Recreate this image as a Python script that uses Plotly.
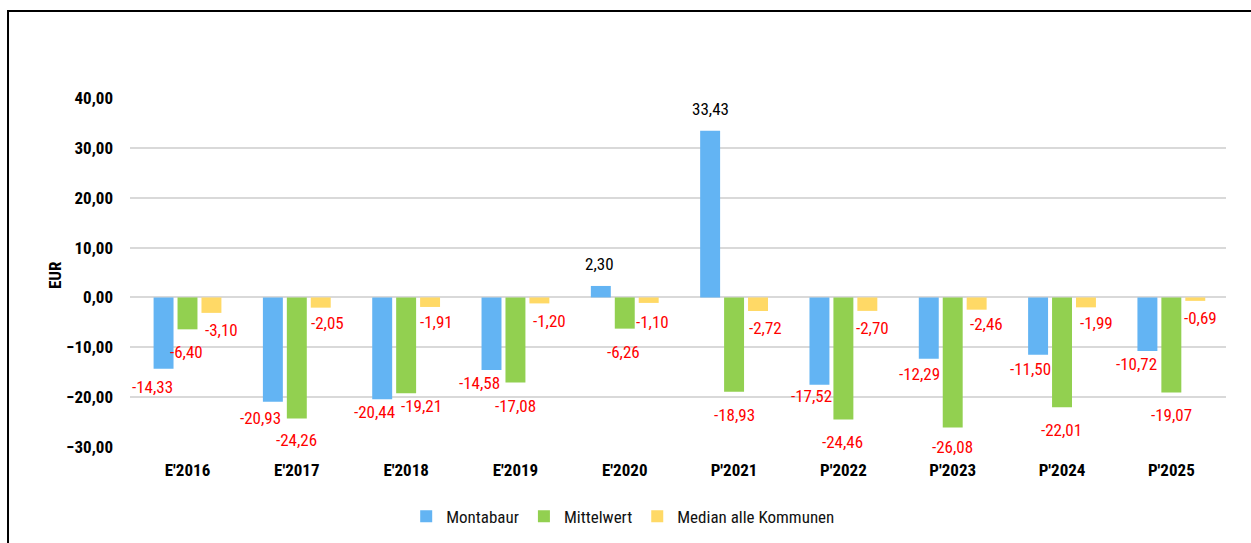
import plotly.graph_objects as go

categories = ["E'2016", "E'2017", "E'2018", "E'2019", "E'2020",
              "P'2021", "P'2022", "P'2023", "P'2024", "P'2025"]
montabaur = [-14.33, -20.93, -20.44, -14.58, 2.30, 33.43, -17.52, -12.29, -11.50, -10.72]
mittelwert = [-6.40, -24.26, -19.21, -17.08, -6.26, -18.93, -24.46, -26.08, -22.01, -19.07]
median = [-3.10, -2.05, -1.91, -1.20, -1.10, -2.72, -2.70, -2.46, -1.99, -0.69]

series_names = ["Montabaur", "Mittelwert", "Median alle Kommunen"]
colors = ["#63B4F3", "#92D050", "#FFD966"]

# label offsets (pixels) relative to bar end: (dx, dy_down)
label_offsets = [
    [(-11, 18), (-12, 16), (-8, 13), (-12, 13), (-1, -22), (0, -22), (-8, 11), (-9, 15), (-8, 14), (-11, 13)],
    [(-1, 23), (0, 22), (15, 13), (0, 23), (-1, 23), (0, 23), (-1, 23), (0, 20), (-1, 23), (0, 22)],
    [(10, 17), (7, 15), (6, 15), (10, 18), (4, 19), (7, 17), (5, 17), (10, 14), (10, 16), (5, 17)],
]
bar_shift = [-24, 0, 24]

FONT = "Liberation Sans Narrow, Arial Narrow, Roboto Condensed, Roboto, sans-serif"

fig = go.Figure()
all_series = [montabaur, mittelwert, median]
for name, vals, col in zip(series_names, all_series, colors):
    fig.add_trace(go.Bar(x=categories, y=vals, name=name, marker_color=col,
                         marker_line_width=0))

annotations = []
for si, vals in enumerate(all_series):
    for ci, v in enumerate(vals):
        dx, dy = label_offsets[si][ci]
        txt = f"{v:.2f}".replace(".", ",")
        annotations.append(dict(
            x=categories[ci], y=v, xref="x", yref="y",
            text=txt, showarrow=False,
            xshift=bar_shift[si] + dx, yshift=-dy,
            font=dict(family=FONT, size=17, color="#FF0000" if v < 0 else "#000000"),
            xanchor="center", yanchor="middle",
        ))

annotations.append(dict(
    x=-0.0684, y=0.493, xref="paper", yref="paper", text="EUR", textangle=-90,
    showarrow=False, font=dict(family=FONT, size=17, color="#000000", weight="bold"),
    xanchor="center", yanchor="middle",
))

fig.update_layout(
    width=1251, height=543,
    margin=dict(l=130, r=25, t=98, b=96, autoexpand=False),
    paper_bgcolor="white", plot_bgcolor="white",
    barmode="group", bargap=0.343, bargroupgap=0.1667,
    separators=", ",
    font=dict(family=FONT, size=17, color="#000000"),
    annotations=annotations,
    showlegend=True,
    legend=dict(orientation="h", x=0.45, xanchor="center", y=-0.2, yanchor="middle",
                font=dict(family=FONT, size=17, color="#111111"),
                itemwidth=30, tracegroupgap=0),
    shapes=[dict(type="rect", xref="paper", yref="paper",
                 x0=-0.1113, x1=1.05, y0=-0.35, y1=1.2493,
                 line=dict(color="#000000", width=2), fillcolor="rgba(0,0,0,0)")],
)
fig.update_xaxes(showgrid=False, showline=False, ticks="", automargin=False,
                 tickfont=dict(family=FONT, size=17, color="#000000", weight="bold"),
                 ticklabelstandoff=11)
fig.update_yaxes(range=[-30, 40], dtick=10, tickformat=".2f", automargin=False,
                 showgrid=True, gridcolor="#D9D9D9", gridwidth=2,
                 zeroline=True, zerolinecolor="#D9D9D9", zerolinewidth=2,
                 showline=False, ticks="",
                 tickfont=dict(family=FONT, size=17, color="#000000", weight="bold"),
                 ticklabelstandoff=16)

fig.write_html("out.html", config={"displayModeBar": False},
               post_script="document.body.style.margin='0px';document.body.style.overflow='hidden';")
